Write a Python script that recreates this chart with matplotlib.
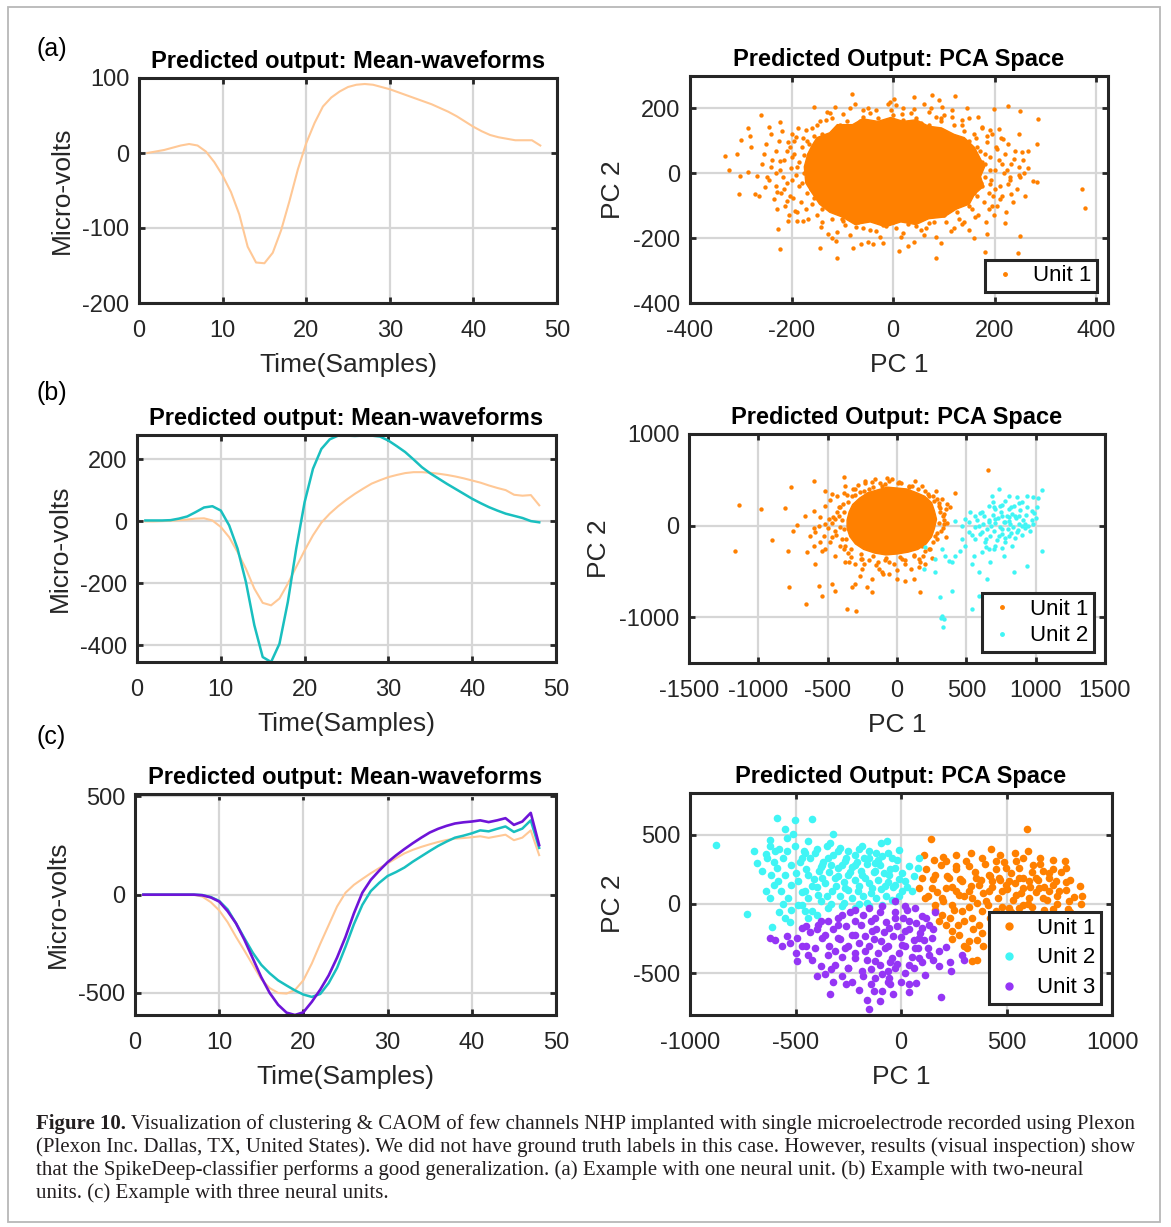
import matplotlib
matplotlib.use('Agg')
import matplotlib.pyplot as plt
from matplotlib.lines import Line2D
from matplotlib.patches import Rectangle
import numpy as np

plt.rcParams['font.family'] = ['Liberation Sans', 'DejaVu Sans']
plt.rcParams['axes.unicode_minus'] = False

# ---- mean waveforms (samples 1..48) ----
samples = np.arange(1, 49)

wave_a_unit1 = [0, 2, 4, 7, 10, 12, 10, 2, -12, -30, -52, -82, -125, -146, -147, -133,
                -103, -64, -22, 13, 40, 62, 74, 82, 88, 91, 92, 91, 88, 85, 81, 77,
                73, 69, 65, 60, 55, 49, 42, 35, 29, 24, 21, 19, 17, 17, 17, 10]

wave_b_unit1 = [0, 0, 1, 2, 4, 6, 9, 10, 3, -18, -51, -99, -153, -217, -263, -271,
                -249, -201, -147, -94, -45, -4, 25, 49, 70, 89, 106, 122, 133, 143, 150, 156,
                159, 159, 157, 154, 150, 145, 139, 132, 125, 116, 108, 101, 86, 83, 85, 52]
wave_b_unit2 = [3, 3, 3, 4, 9, 16, 30, 45, 49, 35, -13, -88, -196, -335, -438, -454,
                -395, -260, -88, 62, 170, 234, 265, 277, 277, 276, 277, 277, 274, 261, 243, 224,
                200, 175, 155, 138, 121, 105, 89, 73, 59, 46, 35, 25, 18, 11, 1, -3]

wave_c_unit1 = [0, 0, 0, 0, 0, 0, 0, -10, -38, -80, -140, -215, -285, -358, -430, -475,
                -500, -503, -485, -435, -350, -250, -155, -60, 10, 50, 80, 109, 135, 159, 185, 210,
                228, 243, 256, 268, 278, 285, 288, 292, 297, 289, 297, 305, 277, 290, 327, 201]
wave_c_unit2 = [0, 0, 0, 0, 0, 0, 0, -2, -12, -32, -75, -146, -222, -296, -357, -400,
                -436, -462, -487, -508, -520, -505, -450, -372, -265, -150, -52, 18, 60, 95, 115, 138,
                168, 195, 222, 248, 270, 290, 300, 312, 327, 322, 335, 347, 319, 336, 378, 238]
wave_c_unit3 = [0, 0, 0, 0, 0, 0, 0, -3, -14, -35, -84, -146, -230, -325, -420, -500,
                -560, -600, -612, -598, -545, -483, -411, -320, -215, -95, 10, 75, 122, 165, 200, 232,
                262, 290, 316, 335, 350, 362, 368, 372, 378, 369, 378, 389, 355, 372, 416, 252]

# ---- PCA space: dense core outlines + individual points ----
pca_a_unit1_core = [(-175, 20), (-168, 60), (-160, 85), (-150, 110), (-125, 125), (-110, 150),
                    (-80, 150), (-60, 168), (-30, 160), (-5, 172), (20, 160), (45, 165), (70, 145),
                    (95, 140), (120, 120), (140, 110), (160, 80), (170, 50), (180, 20), (172, -10),
                    (178, -40), (160, -65), (150, -95), (125, -110), (100, -135), (70, -140),
                    (45, -158), (15, -150), (-15, -165), (-45, -150), (-75, -158), (-100, -135),
                    (-125, -120), (-145, -95), (-160, -60), (-172, -30)]
pca_a_unit1_pts = [(-82, 245), (77, 240), (121, 238), (90, 227), (42, 235), (-6, 220), (1, 230),
                   (-155, 204), (-261, 180), (-222, 158), (-244, 142), (-285, 139), (-300, 103),
                   (-331, 52), (-324, 10), (-303, -64), (-272, -64), (-264, -69), (-226, -172),
                   (-223, -232), (-208, -148), (-145, -229), (-110, -260), (-112, -208), (-63, -219),
                   (-50, -213), (-39, -219), (12, -239), (41, -211), (84, -260), (16, -196), (181, -244),
                   (245, -246), (185, -186), (221, -152), (250, -193), (372, -48), (378, -107),
                   (286, 168), (284, 91), (266, 68), (253, 65), (226, 206), (250, 191), (198, 199),
                   (168, 173), (175, 142), (191, 132), (208, 137), (217, 106), (237, 44), (247, 19),
                   (247, -4), (257, 0), (276, -23), (283, -28), (227, -33), (233, -64), (191, -33),
                   (197, -69), (188, -110), (162, -136), (136, -157), (113, -177), (70, -152),
                   (44, -162), (-14, -162), (-34, -177), (-73, -167), (-99, -146), (-129, -188),
                   (-142, -167), (-177, -146), (-194, -115), (-210, -85), (-230, -38), (-249, -12),
                   (-269, -7), (-240, 19), (-223, 39), (-203, 80), (-191, 111), (-171, 132),
                   (-132, 163), (-99, 184), (-60, 194), (-34, 196), (-11, 214), (18, 184), (41, 199),
                   (70, 189), (97, 204), (116, 194), (146, 201), (136, 163), (84, 173), (-282, 116),
                   (-279, 80), (-308, 59), (-301, -7), (-285, 3), (-259, 29), (-252, -43), (-228, -59),
                   (-203, -69), (-216, -12), (-190, -146),
                   (-150, 150), (-120, 170), (-90, 160), (-60, 175), (-30, 170), (0, 180), (20, 165),
                   (45, 170), (70, 150), (95, 160), (120, 150), (140, 130), (160, 120), (-140, 120),
                   (-170, 100), (-180, 80), (-165, 60), (-200, 50), (-190, 20), (-175, 0), (-200, -20),
                   (-185, -40), (-170, -60), (-160, -95), (-140, -110), (-120, -140), (-95, -160),
                   (-70, -150), (-45, -175), (-20, -160), (5, -170), (30, -155), (55, -175), (80, -150),
                   (100, -130), (125, -120), (150, -100), (165, -70), (175, -40), (180, -10), (190, 10),
                   (175, 35), (180, 60), (165, 80), (150, 100), (200, -50), (210, -80), (195, -100),
                   (215, 30), (225, 10), (230, -10), (205, 75), (185, 115), (-215, -50), (-230, 0),
                   (-210, 70), (-195, 100), (-160, 140), (-110, -180), (60, -190), (120, -170),
                   (140, -150), (-130, 190), (-50, 200), (20, 200), (100, 180),
                   (-255, 60), (-250, 90), (-245, -20), (-240, 120), (-238, 40), (-235, -80),
                   (-230, 70), (-228, -110), (-225, 100), (-222, 10), (-220, -60), (-218, 130),
                   (-215, 40), (-212, -100), (-210, -30), (-208, 95), (-205, -130), (-202, 15),
                   (-200, 120), (-198, -75), (-195, 60), (-192, -5), (-190, -120), (-188, 140),
                   (-185, 35), (-182, -90), (-180, -30), (-178, 110), (-175, 55), (-172, -110),
                   (-170, 20), (-168, -140), (-165, 90), (-162, -50), (-160, 40), (-158, -10),
                   (-156, 115), (-155, -75), (-152, 70), (-150, -130),
                   (152, 80), (155, -110), (158, 40), (160, -60), (163, 110), (165, 0), (168, -130),
                   (170, 70), (172, -30), (175, 140), (178, -90), (180, 30), (183, -150), (185, 95),
                   (188, -60), (190, 50), (193, -20), (195, 120), (198, -130), (200, 10), (203, 80),
                   (205, -100), (208, 40), (210, -40), (213, 110), (215, -70), (218, 0), (220, 60),
                   (223, -120), (226, 90), (230, -20), (233, 30), (236, -90), (240, 70), (243, -50),
                   (247, 120), (250, -10), (255, 40), (260, -70), (265, 15),
                   (-145, 160), (-125, 185), (-105, 150), (-85, 200), (-65, 160), (-45, 185),
                   (-25, 155), (-5, 195), (15, 150), (35, 185), (55, 155), (75, 200), (95, 170),
                   (115, 175), (135, 150), (-115, 205), (-75, 215), (5, 210), (60, 215), (150, 170),
                   (-140, -150), (-120, -200), (-100, -140), (-85, -190), (-60, -170), (-40, -145),
                   (-25, -195), (0, -150), (20, -185), (40, -145), (65, -170), (85, -195), (105, -150),
                   (130, -140), (150, -175), (-80, -230), (-20, -215), (30, -225), (95, -215),
                   (160, -200)]

pca_b_unit1_core = [(-360, 60), (-345, 150), (-320, 230), (-270, 300), (-210, 360), (-140, 390),
                    (-70, 420), (0, 410), (70, 400), (140, 360), (200, 320), (250, 250), (270, 160),
                    (285, 70), (270, -30), (250, -120), (210, -200), (150, -260), (80, -290),
                    (0, -310), (-80, -320), (-160, -300), (-240, -260), (-300, -200), (-340, -120),
                    (-360, -30)]
pca_b_unit1_pts = [(-1142, 229), (-1166, -273), (-978, 182), (-805, 196), (-762, 425), (-596, 484),
                   (-385, 527), (-233, 491), (-156, 509), (-36, 509), (12, 473), (132, 484), (180, 436),
                   (416, 356), (656, 607), (325, 291), (361, 236), (337, 127), (337, 18), (276, -109),
                   (228, -255), (168, -400), (156, -455), (120, -582), (168, -727), (60, -600),
                   (0, -582), (-60, -527), (-108, -509), (-180, -582), (-180, -727), (-216, -673),
                   (-264, -545), (-300, -636), (-325, -673), (-361, -909), (-296, -935), (-445, -709),
                   (-469, -636), (-541, -764), (-565, -654), (-589, -418), (-601, -218), (-625, -109),
                   (-649, -291), (-721, 7), (-752, -55), (-788, -273), (-781, -673), (-656, -855),
                   (-901, -156), (-661, 109), (-601, 164), (-553, 91), (-517, 218), (-493, 73),
                   (-529, -109), (-517, -255), (-445, -327), (-373, -400), (-373, -218), (-469, 345),
                   (-433, 327), (-517, 382), (-373, 436), (-264, 364), (-72, 516), (84, 436),
                   (228, 327), (288, 291), (300, 218), (228, -109), (180, -218), (36, -364),
                   (-60, -400), (-132, -473), (-252, -364), (-349, -400), (-409, -218), (-469, -127),
                   (-445, 73), (-409, 200), (-325, 327), (-300, 400), (-204, 400), (-108, 436),
                   (-553, -182), (-589, -73),
                   (-380, 150), (-350, 260), (-300, 330), (-240, 380), (-170, 420), (-90, 450),
                   (10, 460), (110, 430), (200, 380), (260, 320), (300, 250), (310, 150), (300, 30),
                   (290, -80), (260, -180), (200, -280), (120, -320), (20, -340), (-80, -350),
                   (-170, -330), (-260, -310), (-330, -250), (-370, -150), (-380, -40), (-400, 60),
                   (-420, 200), (-350, -300), (-240, -420), (-140, -400), (60, -420), (160, -360),
                   (330, -30), (340, 60), (-450, -60), (-470, 30), (-430, 150), (280, 380), (350, 180),
                   (-420, 100), (-410, -20), (-400, -150), (-390, 240), (-380, -260), (-360, 330),
                   (-340, 20), (-330, -340), (-320, 400), (-300, -420), (-280, 440), (-260, -360),
                   (-230, 460), (-200, -380), (-180, 480), (-150, -430), (-120, 470), (-90, -380),
                   (-60, 490), (-20, -420), (30, 470), (60, -380), (90, 420), (120, -330), (150, 400),
                   (190, -330), (220, 350), (240, -260), (270, 270), (290, -150), (310, 190),
                   (320, -60), (330, 100), (360, 30), (350, -120), (380, 200), (-440, -100),
                   (-460, 90), (-480, -180), (-500, -30), (-520, 20), (-540, -280), (-480, 280),
                   (-380, 360), (-250, -470), (-100, -530), (0, -480), (100, -470), (200, -420),
                   (250, -350), (-560, 0), (-600, -30)]

pca_b_unit2_pts = [(1046, 389), (978, 309), (938, 327), (1010, 200), (974, 164), (901, 255),
                   (865, 309), (805, 327), (733, 400), (685, 327), (690, 255), (745, 218), (805, 182),
                   (853, 109), (925, 18), (865, -73), (805, -109), (781, -182), (829, -218),
                   (841, -509), (938, -436), (1046, -273), (673, -400), (649, -582), (589, -509),
                   (541, -418), (553, -327), (493, -218), (457, -273), (421, -327), (397, -400),
                   (373, -382), (349, -327), (325, -255), (276, -364), (276, -509), (204, -236),
                   (192, -473), (397, -709), (313, -782), (325, -982), (337, -1018), (329, -1109),
                   (319, -1009), (541, -909), (589, -764), (469, 0), (493, 73), (421, 55), (529, 145),
                   (565, 109), (613, 145), (661, 36), (613, -73), (565, -145), (637, -182),
                   (709, -218), (733, -109), (757, -36), (781, 36), (709, 73), (757, 109), (589, 0),
                   (517, -73), (469, -145), (661, -255), (613, -291), (769, -327), (817, 18),
                   (901, 0), (877, 109), (805, 91), (841, 218), (781, 273), (709, 182), (661, 218),
                   (560, -20), (580, 60), (600, -90), (620, 20), (630, 100), (640, -150), (650, -40),
                   (660, 60), (670, -110), (680, 0), (690, 120), (700, -60), (710, 30), (720, -160),
                   (730, 80), (740, -20), (750, 150), (760, -90), (770, 40), (780, -140), (790, 100),
                   (800, -40), (810, 50), (820, -80), (830, 130), (840, -10), (850, -130), (860, 80),
                   (870, -50), (880, 20), (890, 170), (900, -100), (910, 60), (920, -30), (930, 120),
                   (945, 0), (960, -60), (975, 60), (990, 140), (600, 140), (640, -230), (700, -250),
                   (760, -240), (540, -100), (520, 40), (700, 200), (760, 220), (820, 200), (880, 250),
                   (940, 200), (1000, 80), (1020, 300), (980, 20)]

pca_c_unit1_pts = [(597, 540), (140, 468), (425, 398), (775, 307), (719, 254), (783, 158), (798, 24),
                   (854, 2), (790, -34), (719, -34), (108, 350), (156, 319), (211, 307), (259, 271),
                   (322, 271), (386, 331), (449, 307), (498, 259), (544, 307), (576, 331), (624, 283),
                   (671, 235), (735, 163), (751, 91), (703, 91), (656, 115), (608, 163), (560, 187),
                   (513, 163), (465, 187), (417, 211), (354, 187), (290, 163), (227, 187), (163, 211),
                   (100, 187), (84, 115), (116, 43), (163, -5), (195, -77), (211, -149), (243, -197),
                   (275, -221), (322, -269), (314, -317), (338, -413), (362, -400), (386, -209),
                   (370, -149), (338, -101), (290, -53), (243, -5), (195, 43), (148, 115), (211, 115),
                   (275, 67), (338, 43), (402, 19), (417, 91), (481, 91), (544, 67), (608, 43),
                   (671, 43), (576, -5), (513, -29), (449, -53), (386, -53), (322, 91), (259, 91),
                   (370, 139), (433, 163), (497, 139), (576, 115), (640, 187), (703, 187),
                   (120, 250), (150, 180), (170, 90), (190, 280), (200, 20), (220, 200), (240, 120),
                   (250, -40), (260, 250), (280, 180), (300, 60), (310, 310), (320, -20), (330, 130),
                   (350, 230), (360, 10), (380, 170), (390, 80), (400, 290), (410, -10), (420, 200),
                   (430, 120), (450, 250), (460, 40), (470, 170), (480, -20), (490, 300), (500, 110),
                   (520, 220), (530, 30), (540, 150), (560, 260), (570, 80), (580, 190), (600, 0),
                   (610, 120), (620, 230), (640, 90), (650, 170), (660, 290), (680, 120), (690, 30),
                   (700, 220), (720, 140), (740, 60), (760, 230), (780, 100), (800, 170), (820, 50),
                   (130, 60), (160, -40), (180, -120), (230, -100), (270, -150), (300, -120),
                   (340, -180), (420, -100), (470, -80), (520, -60), (560, -30), (620, -20), (680, -40),
                   (740, 0), (800, -60), (200, 340), (260, 350), (330, 370), (470, 350), (540, 370),
                   (600, 380), (660, 330), (720, 320), (780, 260), (850, 130), (860, 60), (360, -260),
                   (390, -300), (300, -300), (240, -250)]

pca_c_unit2_pts = [(-876, 422), (-586, 619), (-503, 607), (-421, 614), (-551, 542), (-514, 504),
                   (-622, 463), (-538, 475), (-440, 451), (-321, 506), (-697, 384), (-681, 295),
                   (-633, 331), (-595, 379), (-640, 91), (-730, -70), (-611, -165), (-551, -101),
                   (-527, -130), (-337, 439), (-289, 403), (-186, 415), (-97, 439), (-65, 451),
                   (-8, 391), (84, 331), (81, 259), (37, 271), (21, 163), (52, 91), (5, 91), (-27, 19),
                   (-90, -5), (-154, -17), (-217, -29), (-281, -17), (-344, -29), (-400, -77),
                   (-440, -101), (-456, -53), (-487, -5), (-535, 43), (-567, 91), (-583, 163),
                   (-551, 211), (-519, 283), (-471, 331), (-408, 367), (-344, 331), (-265, 307),
                   (-217, 355), (-154, 331), (-90, 343), (-43, 331), (-27, 259), (-59, 211),
                   (-122, 235), (-186, 211), (-249, 211), (-313, 187), (-376, 187), (-440, 211),
                   (-487, 163), (-456, 91), (-392, 67), (-329, 91), (-265, 115), (-202, 91),
                   (-138, 115), (-75, 127), (-27, 139), (-376, 283), (-297, 259), (-217, 283),
                   (-122, 295), (5, 223), (-589, 259), (-614, 211), (-503, 415), (-456, 367),
                   (-480, 300), (-450, 250), (-430, 330), (-410, 180), (-400, 120), (-390, 240),
                   (-370, 300), (-360, 150), (-350, 60), (-340, 230), (-320, 350), (-310, 130),
                   (-300, 200), (-290, 60), (-280, 280), (-270, 160), (-260, 330), (-250, 100),
                   (-240, 230), (-230, 40), (-220, 170), (-210, 300), (-200, 130), (-190, 240),
                   (-180, 60), (-170, 190), (-160, 290), (-150, 150), (-140, 80), (-130, 230),
                   (-120, 40), (-110, 170), (-100, 280), (-95, 110), (-80, 220), (-70, 60), (-60, 160),
                   (-50, 250), (-45, 30), (-40, 120), (-500, 220), (-520, 140), (-470, 90), (-440, 40),
                   (-420, 130), (-380, 20), (-330, 0), (-270, 10), (-200, 0), (-160, 10), (-460, 380),
                   (-400, 400), (-350, 420), (-300, 380), (-250, 380), (-200, 400), (-150, 380),
                   (-120, 370), (-60, 370), (-20, 320), (-560, 330), (-600, 300), (-640, 360),
                   (-580, 400), (-620, 420), (-540, 380), (-660, 240), (-600, 140), (-620, 40),
                   (-560, 0), (-520, -40), (-580, -60), (-470, -10), (-420, -50), (-380, 270),
                   (-330, 280), (-230, 270), (-175, 330), (-110, 320), (-10, 60), (30, 120), (60, 200),
                   (-10, 180)]

pca_c_unit3_pts = [(-154, -755), (-337, -652), (-130, -628), (-51, -580), (37, -580), (40, -635),
                   (190, -669), (113, -513), (238, -484), (-400, -520), (-360, -508), (-495, -408),
                   (-622, -245), (-595, -261), (-562, -305), (-527, -281), (-495, -245), (-448, -161),
                   (-392, -149), (-344, -125), (-281, -77), (-217, -41), (-154, -29), (-90, -17),
                   (-27, 19), (21, -17), (68, -29), (100, -89), (132, -149), (148, -245), (179, -341),
                   (132, -365), (84, -389), (37, -437), (-27, -461), (-90, -508), (-122, -532),
                   (-186, -484), (-249, -461), (-313, -437), (-344, -365), (-408, -317), (-440, -365),
                   (-471, -305), (211, -312), (290, -365), (300, -400), (-297, -245), (-217, -221),
                   (-138, -197), (-59, -173), (21, -197), (84, -245), (100, -173), (37, -125),
                   (-27, -101), (-122, -101), (-217, -125), (-297, -149), (-376, -245), (-265, -317),
                   (-170, -341), (-75, -317), (5, -293), (68, -317), (-43, -389), (-122, -413),
                   (-217, -389), (-313, -341), (-90, -628), (-59, -532),
                   (-400, -180), (-380, -120), (-360, -220), (-340, -300), (-320, -180), (-300, -100),
                   (-290, -250), (-280, -380), (-260, -160), (-250, -300), (-240, -60), (-230, -220),
                   (-220, -350), (-200, -280), (-190, -150), (-180, -80), (-170, -230), (-160, -400),
                   (-150, -300), (-140, -120), (-130, -250), (-120, -180), (-110, -350), (-100, -60),
                   (-95, -270), (-80, -200), (-70, -130), (-60, -300), (-50, -420), (-40, -230),
                   (-30, -60), (-20, -160), (-10, -350), (0, -240), (10, -100), (20, -300), (30, -40),
                   (40, -180), (50, -380), (60, -260), (70, -140), (80, -320), (90, -210), (110, -260),
                   (120, -100), (130, -320), (150, -180), (160, -60), (-430, -200), (-450, -300),
                   (-420, -400), (-380, -450), (-330, -470), (-280, -520), (-230, -560), (-180, -520),
                   (-140, -470), (-100, -440), (-60, -480), (-20, -430), (20, -500), (60, -460),
                   (100, -420), (150, -400), (180, -450), (230, -420), (-500, -350), (-540, -230),
                   (-470, -170), (-250, -460), (-200, -620), (-160, -690), (-100, -700), (-40, -650),
                   (0, -560), (70, -570), (-260, -580), (-320, -560), (-140, -580), (-60, -560)]

unit_labels = ['Unit 1', 'Unit 2', 'Unit 3']

# colours
line_colors = ['#FFC896', '#19BFBF', '#6E14D8']
dot_colors = ['#FF8000', '#40F5F5', '#9535F5']
ink = '#262626'

W, H = 1171, 1227


def place(x0, y0, x1, y1):
    return [x0 / W, 1 - y1 / H, (x1 - x0) / W, (y1 - y0) / H]


def style_axes(ax, xlim, ylim, xticks, yticks, title, xlabel, ylabel):
    ax.set_xlim(xlim)
    ax.set_ylim(ylim)
    ax.set_xticks(xticks)
    ax.set_yticks(yticks)
    ax.grid(True, color='#d6d6d6', lw=1.6)
    ax.set_axisbelow(True)
    for sp in ax.spines.values():
        sp.set_linewidth(2.2)
        sp.set_color(ink)
    ax.tick_params(direction='in', length=4, width=2, top=True, right=True,
                   labelsize=17, labelcolor=ink, color=ink)
    ax.tick_params(axis='x', pad=12)
    ax.tick_params(axis='y', pad=7)
    ax.set_title(title, fontsize=17, fontweight='bold', pad=7)
    ax.set_xlabel(xlabel, fontsize=19, color=ink, labelpad=8)
    ax.set_ylabel(ylabel, fontsize=19, color=ink, labelpad=6)


def draw_cluster(ax, core, pts, color, size, z):
    if core:
        cx, cy = zip(*core)
        ax.fill(cx, cy, color=color, lw=1.0, zorder=z)
    px, py = zip(*pts)
    ax.scatter(px, py, s=size, color=color, lw=0, zorder=z)


def add_legend(ax, n, msize, spacing):
    handles = [Line2D([], [], ls='', marker='o', markersize=msize, color=dot_colors[i])
               for i in range(n)]
    leg = ax.legend(handles, unit_labels[:n], loc='lower right', fontsize=16, fancybox=False,
                    edgecolor=ink, framealpha=1, borderaxespad=0.5, handlelength=1.3,
                    handletextpad=0.6, borderpad=0.25, labelspacing=spacing)
    leg.get_frame().set_linewidth(2.2)


fig = plt.figure(figsize=(W / 100, H / 100), dpi=100)

wave_title = 'Predicted output: Mean-waveforms'
pca_title = 'Predicted Output: PCA Space'

# (a)
ax = fig.add_axes(place(139, 78, 557, 303))
ax.plot(samples, wave_a_unit1, color=line_colors[0], lw=1.5)
style_axes(ax, (0, 50), (-200, 100), range(0, 51, 10), [-200, -100, 0, 100],
           wave_title, 'Time(Samples)', 'Micro-volts')

ax = fig.add_axes(place(690, 76, 1108, 303))
draw_cluster(ax, pca_a_unit1_core, pca_a_unit1_pts, dot_colors[0], 10, 2)
style_axes(ax, (-400, 423), (-400, 300), range(-400, 401, 200), range(-400, 201, 200),
           pca_title, 'PC 1', 'PC 2')
add_legend(ax, 1, 2.5, 0.15)

# (b)
ax = fig.add_axes(place(137, 435, 556, 662))
ax.plot(samples, wave_b_unit1, color=line_colors[0], lw=1.5)
ax.plot(samples, wave_b_unit2, color=line_colors[1], lw=1.8)
style_axes(ax, (0, 50), (-454, 279), range(0, 51, 10), [-400, -200, 0, 200],
           wave_title, 'Time(Samples)', 'Micro-volts')

ax = fig.add_axes(place(689, 434, 1105, 663))
draw_cluster(ax, pca_b_unit1_core, pca_b_unit1_pts, dot_colors[0], 10, 2)
draw_cluster(ax, None, pca_b_unit2_pts, dot_colors[1], 10, 3)
style_axes(ax, (-1500, 1500), (-1500, 1000), range(-1500, 1501, 500), [-1000, 0, 1000],
           pca_title, 'PC 1', 'PC 2')
add_legend(ax, 2, 2.5, 0.25)

# (c)
ax = fig.add_axes(place(135, 794, 556, 1015))
ax.plot(samples, wave_c_unit1, color=line_colors[0], lw=1.5)
ax.plot(samples, wave_c_unit2, color=line_colors[1], lw=1.8)
ax.plot(samples, wave_c_unit3, color=line_colors[2], lw=1.9)
style_axes(ax, (0, 50), (-612, 512), range(0, 51, 10), [-500, 0, 500],
           wave_title, 'Time(Samples)', 'Micro-volts')

ax = fig.add_axes(place(690, 793, 1112, 1015))
draw_cluster(ax, None, pca_c_unit1_pts, dot_colors[0], 30, 2)
draw_cluster(ax, None, pca_c_unit2_pts, dot_colors[1], 30, 3)
draw_cluster(ax, None, pca_c_unit3_pts, dot_colors[2], 30, 4)
style_axes(ax, (-1000, 1000), (-800, 800), range(-1000, 1001, 500), [-500, 0, 500],
           pca_title, 'PC 1', 'PC 2')
add_legend(ax, 3, 5, 0.4)

# overlay in pixel coordinates: panel letters, caption, outer frame
ov = fig.add_axes([0, 0, 1, 1])
ov.set_xlim(0, W)
ov.set_ylim(H, 0)
ov.axis('off')

for letter, yc in zip(['(a)', '(b)', '(c)'], [49, 393, 737]):
    ov.text(36, yc, letter, fontsize=18, color='black', ha='left', va='center')

ov.add_patch(Rectangle((8, 7), 1152, 1215, fill=False, edgecolor='#b8b8b8', lw=1.3))

caption = [
    ' Visualization of clustering & CAOM of few channels NHP implanted with single microelectrode recorded using Plexon',
    '(Plexon Inc. Dallas, TX, United States). We did not have ground truth labels in this case. However, results (visual inspection) show',
    'that the SpikeDeep-classifier performs a good generalization. (a) Example with one neural unit. (b) Example with two-neural',
    'units. (c) Example with three neural units.',
]
cap_font = dict(family=['Liberation Serif', 'DejaVu Serif'], fontsize=15, color='#231f20')
head = ov.text(36, 1129, 'Figure 10.', fontweight='bold', va='baseline', ha='left', **cap_font)
ov.annotate(caption[0], xy=(1, 1129), xycoords=(head, 'data'), va='baseline', ha='left', **cap_font)
for i, line in enumerate(caption[1:]):
    ov.text(36, 1152 + 23 * i, line, va='baseline', ha='left', **cap_font)

fig.savefig('out.png', dpi=100)
